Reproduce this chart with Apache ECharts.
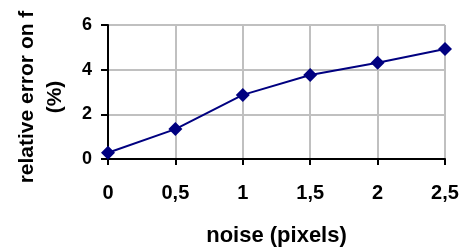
<!DOCTYPE html>
<html>
<head>
<meta charset="utf-8">
<script src="https://cdn.jsdelivr.net/npm/echarts@6/dist/echarts.min.js"></script>
<style>
  html, body { margin: 0; padding: 0; background: #fff; }
  #chart { width: 464px; height: 247px; }
</style>
</head>
<body>
<div id="chart"></div>
<script>
// noise levels (pixels) and relative error on f (%)
var noise = [0, 0.5, 1, 1.5, 2, 2.5];
var relError = [0.28, 1.34, 2.87, 3.76, 4.31, 4.93];
var yTicks = [0, 2, 4, 6];

var font = "Liberation Sans, Arial, sans-serif";
var chart = echarts.init(document.getElementById("chart"), null, { renderer: "canvas" });

chart.setOption({
  animation: false,
  grid: { left: 108, right: 19, top: 25, bottom: 88, containLabel: false, outerBoundsMode: "none" },
  xAxis: {
    type: "value",
    min: 0,
    max: 2.5,
    interval: 0.5,
    name: "noise (pixels)",
    nameLocation: "middle",
    nameGap: 66,
    nameTextStyle: { fontFamily: font, fontWeight: "bold", fontSize: 22, color: "#000" },
    axisLine: { lineStyle: { color: "#000", width: 2 } },
    axisTick: { show: true, length: 6, lineStyle: { color: "#000", width: 2 } },
    axisLabel: {
      margin: 24,
      fontFamily: font,
      fontWeight: "bold",
      fontSize: 20,
      color: "#000",
      formatter: function (v) { return String(v).replace(".", ","); }
    },
    splitLine: { show: true, lineStyle: { color: "#c0c0c0", width: 2 } }
  },
  yAxis: {
    type: "value",
    min: yTicks[0],
    max: yTicks[yTicks.length - 1],
    interval: 2,
    name: "relative error on f\n(%)",
    nameLocation: "middle",
    nameRotate: 90,
    nameGap: 39,
    nameTextStyle: {
      fontFamily: font, fontWeight: "bold", fontSize: 21, color: "#000",
      lineHeight: 28, padding: [0, 10, 0, 0]
    },
    axisLine: { show: true, lineStyle: { color: "#000", width: 2 } },
    axisTick: { show: true, length: 7, lineStyle: { color: "#000", width: 2 } },
    axisLabel: { margin: 16, fontFamily: font, fontWeight: "bold", fontSize: 18, color: "#000" },
    splitLine: { show: true, lineStyle: { color: "#c0c0c0", width: 2 } }
  },
  series: [
    {
      type: "line",
      data: noise.map(function (x, i) { return [x, relError[i]]; }),
      symbol: "diamond",
      symbolSize: 14,
      lineStyle: { color: "#000080", width: 2 },
      itemStyle: { color: "#000080" }
    }
  ]
});
</script>
</body>
</html>
